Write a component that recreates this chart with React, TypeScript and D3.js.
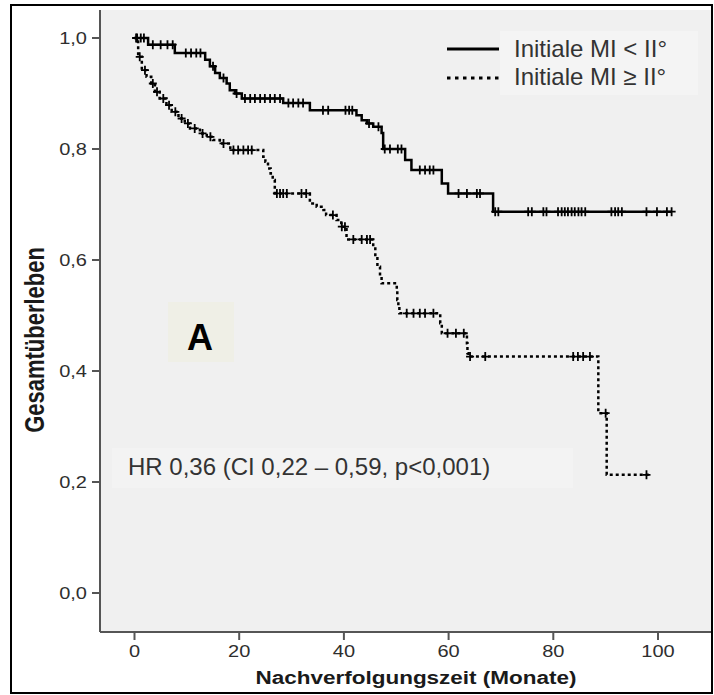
import React from 'react';
import * as d3 from 'd3';

// x / y axis ticks
const xTicks = [0, 20, 40, 60, 80, 100];
const yTicks = [0, 0.2, 0.4, 0.6, 0.8, 1.0];
const yTickLabels = ['0,0', '0,2', '0,4', '0,6', '0,8', '1,0'];

// Initiale MI < II° (solid): event times + survival after the step
const lowTimes = [0, 2.6, 7.7, 13.5, 14.4, 15.4, 16.3, 17.6, 18.2, 19.2, 20.5, 28.4, 33.5, 42.4, 43.4, 44.4, 45.6, 47.2, 47.5, 51.7, 52.9, 58.7, 59.9, 68.5];
const lowSurv = [1.0, 0.988, 0.973, 0.961, 0.949, 0.937, 0.928, 0.918, 0.906, 0.9, 0.891, 0.883, 0.87, 0.861, 0.852, 0.846, 0.84, 0.829, 0.8, 0.78, 0.762, 0.738, 0.72, 0.687];
const lowEnd = 102.6;
const lowCensor = [0.5, 1.2, 1.8, 3.5, 5.0, 6.3, 7.3, 9.8, 10.8, 11.8, 12.6, 15.0, 17.0, 19.5,
  21.1, 22.1, 23.0, 24.0, 24.9, 25.9, 26.8, 27.8, 29.4, 30.3, 31.3, 32.2, 36.0, 37.0, 40.3, 41.0, 41.6, 44.8, 46.6,
  47.8, 48.8, 50.3, 51.0, 54.5, 55.5, 56.4, 57.1, 61.9, 63.5, 65.4, 66.0,
  68.9, 69.5, 75.2, 75.9, 78.1, 78.7, 80.9, 81.6, 82.2, 82.8, 83.5, 84.1, 84.8, 85.4, 86.1, 91.1, 91.8, 92.4, 93.1, 97.8, 99.8, 101.7, 102.6];

// Initiale MI >= II° (dotted)
const highTimes = [0, 0.7, 1.4, 2.3, 3.2, 3.9, 4.8, 6.1, 7.1, 8.4, 9.6, 10.6, 12.5, 13.8, 15.0, 16.3, 18.3, 24.6, 25.0, 25.5, 26.0, 26.4, 26.8,
  33.5, 34.8, 36.1, 36.6, 38.6, 39.5, 40.5, 45.6, 46.0, 46.4, 46.9, 47.2, 50.1, 50.2, 50.4, 50.6, 58.4, 58.7, 63.5, 63.6, 63.8, 88.6, 90.2];
const highSurv = [1.0, 0.966, 0.942, 0.93, 0.918, 0.903, 0.891, 0.879, 0.867, 0.855, 0.846, 0.837, 0.828, 0.822, 0.816, 0.81, 0.798, 0.786, 0.777, 0.765, 0.756, 0.744, 0.72,
  0.702, 0.696, 0.69, 0.681, 0.672, 0.66, 0.637, 0.624, 0.606, 0.588, 0.57, 0.558, 0.546, 0.528, 0.516, 0.504, 0.486, 0.468, 0.45, 0.432, 0.426, 0.324, 0.213];
const highEnd = 98.8;
const highCensor = [0.3, 1.0, 2.0, 3.5, 4.3, 5.5, 6.6, 7.8, 9.0, 10.2, 11.5, 13.0, 14.5, 17.0,
  18.9, 19.8, 20.8, 21.7, 22.4, 27.2, 27.8, 28.4, 29.1, 31.9, 32.8, 37.9, 39.6, 40.2,
  41.8, 43.4, 44.4, 45.0, 52.0, 53.3, 54.5, 55.5, 57.1, 59.8, 61.4, 62.9,
  64.1, 67.0, 83.8, 84.7, 85.7, 87.0, 90.0, 97.8];

const legendLabels = ['Initiale MI < II°', 'Initiale MI \u2265 II°'];
const hrLabel = 'HR 0,36 (CI 0,22 \u2013 0,59, p<0,001)';

const FONT = '"Liberation Sans", Arial, Helvetica, sans-serif';
const SX = 1.25; // the SPSS part of the picture is stretched horizontally

const survAt = (times: number[], surv: number[], t: number) => {
  let v = surv[0];
  for (let i = 0; i < times.length; i++) if (times[i] <= t) v = surv[i];
  return v;
};

const App = () => {
  const W = 714, H = 695;
  const x = d3.scaleLinear().domain([0, 100]).range([134.5, 658]);
  const y = d3.scaleLinear().domain([0, 1]).range([593, 38]);
  const plot = { left: 100, top: 10, right: 712, bottom: 632 };

  const line = d3.line<[number, number]>()
    .x(d => x(d[0]))
    .y(d => y(d[1]))
    .curve(d3.curveStepAfter);

  const series = [
    { times: lowTimes, surv: lowSurv, end: lowEnd, censor: lowCensor, dash: null },
    { times: highTimes, surv: highSurv, end: highEnd, censor: highCensor, dash: '3 3' },
  ];

  return (
    <svg width={W} height={H} style={{ position: 'absolute', left: 0, top: 0, background: '#fff' }} fontFamily={FONT}>
      <rect x={plot.left} y={plot.top} width={plot.right - plot.left} height={plot.bottom - plot.top} fill="#f0f0f0" />

      {/* curves */}
      {series.map((s, i) => {
        const pts: [number, number][] = s.times.map((t, j) => [t, s.surv[j]] as [number, number]);
        pts.push([s.end, s.surv[s.surv.length - 1]]);
        const marks = s.censor.map(c => {
          const cx = x(c), cy = y(survAt(s.times, s.surv, c));
          return `M${cx - 4},${cy}h8M${cx},${cy - 4.5}v9`;
        }).join('');
        return (
          <g key={i}>
            <path d={line(pts) || ''} fill="none" stroke="#000" strokeWidth={2.5}
              strokeDasharray={s.dash || undefined} />
            <path d={marks} fill="none" stroke="#000" strokeWidth={1.8} />
          </g>
        );
      })}

      {/* axes */}
      <g stroke="#555" strokeWidth={2}>
        <line x1={plot.left} y1={plot.top} x2={plot.left} y2={plot.bottom} />
        <line x1={plot.left} y1={plot.bottom} x2={plot.right} y2={plot.bottom} />
        {yTicks.map(t => <line key={t} x1={plot.left - 8} x2={plot.left} y1={y(t)} y2={y(t)} />)}
        {xTicks.map(t => <line key={t} x1={x(t)} x2={x(t)} y1={plot.bottom} y2={plot.bottom + 8} />)}
      </g>
      {yTicks.map((t, i) => (
        <text key={t} transform={`translate(87,${y(t) + 5.5}) scale(${SX},1)`} textAnchor="end" fontSize={16} fill="#2e2e2e">
          {yTickLabels[i]}
        </text>
      ))}
      {xTicks.map(t => (
        <text key={t} transform={`translate(${x(t)},657) scale(${SX},1)`} textAnchor="middle" fontSize={16} fill="#2e2e2e">
          {t}
        </text>
      ))}
      <text transform={`translate(416,684) scale(${SX},1)`} textAnchor="middle" fontSize={18} fontWeight="bold" fill="#1a1a1a">
        Nachverfolgungszeit (Monate)
      </text>
      <text transform={`translate(44,340) scale(${SX},1) rotate(-90)`} textAnchor="middle" fontSize={22} fontWeight="bold" fill="#1a1a1a">
        Gesamtüberleben
      </text>

      {/* legend */}
      <rect x={500} y={31} width={198} height={64} fill="#f4f4f4" />
      <line x1={447} x2={499} y1={49} y2={49} stroke="#000" strokeWidth={3} />
      <line x1={447} x2={499} y1={78} y2={78} stroke="#000" strokeWidth={3} strokeDasharray="3.5 4.5" />
      {legendLabels.map((l, i) => (
        <text key={l} x={514} y={57 + i * 28} fontSize={24} fill="#333">{l}</text>
      ))}

      {/* panel label */}
      <rect x={168} y={302} width={66} height={60} fill="#efefe6" />
      <text x={200} y={350} textAnchor="middle" fontSize={36} fontWeight="bold" fill="#000">A</text>

      {/* hazard ratio */}
      <rect x={112} y={448} width={461} height={40} fill="#f3f3f3" />
      <text x={128} y={475} fontSize={24} fill="#333">{hrLabel}</text>

      <rect x={11} y={5} width={701} height={688} fill="none" stroke="#000" strokeWidth={2} />
    </svg>
  );
};

export default App;
